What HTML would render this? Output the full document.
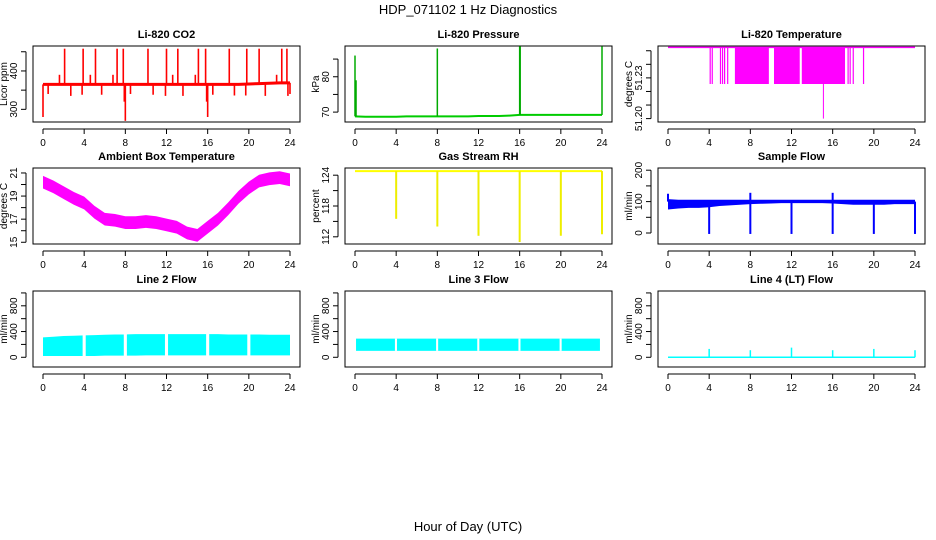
<!DOCTYPE html>
<html><head><meta charset="utf-8"><style>
body{margin:0;background:#fff}
svg{display:block;font-family:"Liberation Sans",sans-serif}
</style></head><body>
<svg id="c" width="936" height="540" viewBox="0 0 936 540" xmlns="http://www.w3.org/2000/svg">
<rect width="936" height="540" fill="#fff"/>
<text x="468" y="14" font-size="13" text-anchor="middle">HDP_071102  1 Hz Diagnostics</text>
<text x="468" y="531" font-size="13" text-anchor="middle">Hour of Day (UTC)</text>
</svg>
<script>
const hours=[0,1,2,3,4,5,6,7,8,9,10,11,12,13,14,15,16,17,18,19,20,21,22,23,24];
const xTicks=[0,4,8,12,16,20,24];
// CO2
const co2Base=[365,365,365,365,365,365,365,365,365,365,365,365,365,365,365,365,365,365,365,365,366,367,368,369,369];
const co2Spikes=[[0,280],[0.5,340],[1.6,390],[2.1,458],[2.7,335],[3.8,338],[3.9,458],[4.6,390],[5.1,458],[5.7,338],[6.8,390],[7.2,458],[7.8,458],[7.9,320],[8.0,270],[8.5,340],[10.2,458],[10.7,338],[11.9,335],[12.0,458],[12.6,390],[13.1,458],[13.6,335],[14.8,390],[15.1,458],[15.8,458],[15.9,320],[16.0,280],[16.5,338],[18.1,458],[18.6,336],[19.7,336],[19.8,458],[21.0,458],[21.6,335],[22.7,390],[23.2,458],[23.7,458],[23.8,335],[24,340]];
// Pressure
const presBase=[68.8,68.7,68.7,68.7,68.7,68.8,68.8,68.8,68.8,68.8,68.8,68.8,68.9,68.9,68.9,69.0,69.2,69.2,69.2,69.2,69.2,69.2,69.2,69.2,69.2];
const presSpikes=[[0,86],[0.1,79],[8,88],[16,88.6],[16.05,88.6],[24,88.6]];
// Li-820 temperature
const tBase=51.2525, tLow=51.2255;
const tDrops=[4.1,4.3,5.1,5.3,5.5,5.8,17.5,17.7,18.0,19.0];
const tBlocks=[[6.5,9.8],[10.3,12.8],[13.0,17.2]];
const tMin=[[15.1,51.2]];
// Ambient box temperature
const ambMid=[20.2,19.8,19.3,18.8,18.4,17.6,17.0,16.9,16.7,16.7,16.8,16.7,16.5,16.3,15.8,15.6,16.3,17.0,17.9,18.9,19.7,20.3,20.5,20.6,20.4];
const ambHalf=0.55;
// Gas stream RH
const rhBase=124.8;
const rhDrops=[[4,115.5],[8,114],[12,112.2],[16,111],[20,112.2],[24,112.5]];
// Sample flow
const sfLow=[75,78,80,80,82,86,88,90,92,93,94,95,95,95,95,95,94,92,90,90,90,90,92,92,92];
const sfHigh=[108,106,106,106,106,106,106,106,106,106,106,106,106,106,106,106,106,106,106,106,106,106,106,106,106];
const sfSpikes=[[0,125],[4,-3],[8,-3],[8,128],[12,-3],[16,-3],[16,128],[20,-3],[24,-3]];
// Line 2 flow
const l2Low=[20,20,20,20,20,20,25,25,25,25,30,30,30,30,30,30,30,30,30,30,30,30,30,30,30];
const l2High=[310,320,330,335,340,345,350,355,355,360,360,360,360,360,360,360,360,360,355,355,355,355,350,350,350];
// Line 3 flow
const l3Low=100, l3High=290;
const flowGaps=[4,8,12,16,20];
// Line 4 flow
const l4Spikes=[[4,130],[8,110],[12,150],[16,110],[20,130],[24,110]];

const svg=document.getElementById('c');
const NS='http://www.w3.org/2000/svg';
function mk(tag,at,parent){const e=document.createElementNS(NS,tag);for(const k in at)e.setAttribute(k,at[k]);(parent||svg).appendChild(e);return e;}
const colX=[33,345,658], rowY=[46,168,291], W=267, H=76;
function panel(key,col,row,title,ylab,ymin,ymax,ticks,labels){
  const g=mk('g',{});
  
  
  const x0=colX[col],y0=rowY[row];
  const xs=h=>x0+10+h*(W-20)/24;
  const ys=v=>y0+H-(v-ymin)/(ymax-ymin)*H;
  const t=mk('text',{x:x0+W/2,y:y0-8,'font-size':11,'font-weight':'bold','text-anchor':'middle'},g);t.textContent=title;
  
  
  const b=mk('rect',{x:x0,y:y0,width:W,height:H,fill:'none',stroke:'#000','stroke-width':1},g);
  
  
  const ax=mk('g',{stroke:'#000','stroke-width':1},g);
  
  
  mk('line',{x1:xs(0),x2:xs(24),y1:y0+H+7,y2:y0+H+7},ax);
  xTicks.forEach(h=>{mk('line',{x1:xs(h),x2:xs(h),y1:y0+H+7,y2:y0+H+12},ax);
    const l=mk('text',{x:xs(h),y:y0+H+24,'font-size':10,'text-anchor':'middle',stroke:'none'},ax);l.textContent=h;
    
    });
  const ay=mk('g',{stroke:'#000','stroke-width':1},g);
  
  
  const axX=x0-7;
  mk('line',{x1:axX,x2:axX,y1:ys(ticks[0]),y2:ys(ticks[ticks.length-1])},ay);
  ticks.forEach(v=>mk('line',{x1:axX,x2:axX-5,y1:ys(v),y2:ys(v)},ay));
  labels.forEach(v=>{const yy=ys(v);const l=mk('text',{x:axX-9,y:yy,'font-size':10,'text-anchor':'middle',stroke:'none',transform:`rotate(-90 ${axX-9} ${yy})`},ay);l.textContent=typeof v==='number'&&ymax-ymin<1?v.toFixed(2):v;
    
    });
  const yt=mk('text',{x:x0-26,y:y0+H/2,'font-size':10,'text-anchor':'middle',transform:`rotate(-90 ${x0-26} ${y0+H/2})`},g);yt.textContent=ylab;
  
  
  const d=mk('g',{},g);
  
  
  return {xs,ys,d};
}
function line(p,pts,color,w,name){const e=mk('polyline',{points:pts.map(q=>p.xs(q[0])+','+p.ys(q[1])).join(' '),fill:'none',stroke:color,'stroke-width':w},p.d);
  
  return e;}
function vseg(p,h,a,b,color,w,name){const e=mk('line',{x1:p.xs(h),x2:p.xs(h),y1:p.ys(a),y2:p.ys(b),stroke:color,'stroke-width':w},p.d);
  
  }
function band(p,lo,hi,color,name,from,to){const pts=[];hours.forEach((h,i)=>{if(h>=from&&h<=to)pts.push(p.xs(h)+','+p.ys(hi[i]));});
  for(let i=hours.length-1;i>=0;i--){const h=hours[i];if(h>=from&&h<=to)pts.push(p.xs(h)+','+p.ys(lo[i]));}
  const e=mk('polygon',{points:pts.join(' '),fill:color},p.d);
  
  }
function bandRange(p,lo,hi,color,name,a,b){const e=mk('rect',{x:p.xs(a),y:p.ys(hi),width:p.xs(b)-p.xs(a),height:p.ys(lo)-p.ys(hi),fill:color},p.d);
  
  }

// CO2
let p=panel('co2',0,0,'Li-820 CO2','Licor ppm',267,465,[300,350,400,450],[300,400]);
line(p,hours.map((h,i)=>[h,co2Base[i]]),'#f00',3,'co2-line');
co2Spikes.forEach(s=>vseg(p,s[0],co2Base[Math.round(s[0])],s[1],'#f00',1.6,'co2-spike'));
// Pressure
p=panel('pressure',1,0,'Li-820 Pressure','kPa',67.2,88.7,[70,75,80,85],[70,80]);
line(p,hours.map((h,i)=>[h,presBase[i]]),'#0c0',2,'pressure-line');
presSpikes.forEach(s=>vseg(p,s[0],presBase[Math.round(s[0])],s[1],'#0a0',1.5,'pressure-spike'));
// Li temp
p=panel('li820-temp',2,0,'Li-820 Temperature','degrees C',51.1975,51.2535,[51.20,51.21,51.22,51.23,51.24,51.25],[51.20,51.23]);
line(p,[[0,tBase],[24,tBase]],'#f0f',1.5,'li820-temp-line');
tBlocks.forEach(b=>bandRange(p,tLow,tBase,'#f0f','li820-temp-block',b[0],b[1]));
tDrops.forEach(h=>vseg(p,h,tBase,tLow,'#f0f',1.2,'li820-temp-drop'));
tMin.forEach(s=>vseg(p,s[0],tBase,s[1],'#f0f',1,'li820-temp-min'));
// Ambient
p=panel('ambient-temp',0,1,'Ambient Box Temperature','degrees C',14.85,21.43,[15,16,17,18,19,20,21],[15,17,19,21]);
band(p,ambMid.map(v=>v-ambHalf),ambMid.map(v=>v+ambHalf),'#f0f','ambient-temp-band',0,24);
// RH
p=panel('gas-rh',1,1,'Gas Stream RH','percent',110.6,125.4,[112,115,118,121,124],[112,118,124]);
line(p,[[0,rhBase],[24,rhBase]],'#ff0',2,'gas-rh-line');
rhDrops.forEach(s=>vseg(p,s[0],rhBase,s[1],'#ee0',2,'gas-rh-drop'));
// Sample flow
p=panel('sample-flow',2,1,'Sample Flow','ml/min',-35,207,[0,50,100,150,200],[0,100,200]);
band(p,sfLow,sfHigh,'#00f','sample-flow-band',0,24);
sfSpikes.forEach(s=>vseg(p,s[0],100,s[1],'#00f',2,'sample-flow-spike'));
// Line 2
p=panel('line2-flow',0,2,'Line 2 Flow','ml/min',-151,1030,[0,200,400,600,800,1000],[0,400,800]);
band(p,l2Low,l2High,'#0ff','line2-flow-band',0,24);
flowGaps.forEach(h=>bandRange(p,-20,400,'#fff','line2-flow-gap',h-0.15,h+0.15));
// Line 3
p=panel('line3-flow',1,2,'Line 3 Flow','ml/min',-151,1030,[0,200,400,600,800,1000],[0,400,800]);
bandRange(p,l3Low,l3High,'#0ff','line3-flow-band',0.1,23.8);
flowGaps.forEach(h=>bandRange(p,l3Low,l3High,'#fff','line3-flow-gap',h-0.12,h+0.08));
// Line 4
p=panel('line4-flow',2,2,'Line 4 (LT) Flow','ml/min',-151,1030,[0,200,400,600,800,1000],[0,400,800]);
line(p,[[0,0],[24,0]],'#0ff',1.5,'line4-flow-line');
l4Spikes.forEach(s=>vseg(p,s[0],0,s[1],'#0ff',1.5,'line4-flow-spike'));
</script>
</body></html>
